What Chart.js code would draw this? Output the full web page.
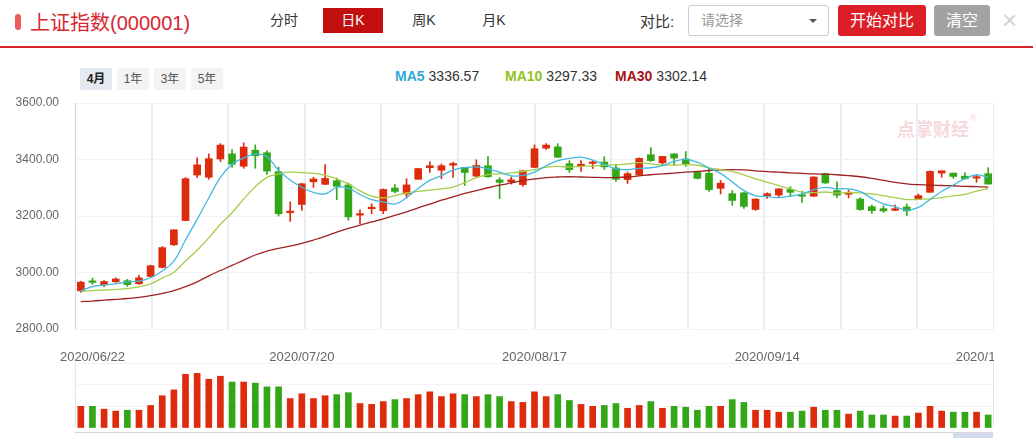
<!DOCTYPE html>
<html>
<head>
<meta charset="utf-8">
<script src="https://cdn.jsdelivr.net/npm/chart.js@4.4.1/dist/chart.umd.min.js"></script>
<style>
  body{margin:0;width:1033px;height:438px;overflow:hidden;background:#fff;position:relative;
       font-family:"Liberation Sans","Noto Sans CJK SC",sans-serif;color:#333}
  .abs{position:absolute;white-space:nowrap}
  .mark{left:15px;top:14px;width:6px;height:16px;background:#ef5b5b;border-radius:3px}
  .title{left:30px;top:10px;font-size:20px;line-height:26px;color:#d9262e}
  .tab{top:8px;height:25px;line-height:25px;font-size:14px;color:#333;text-align:center;width:60px}
  .tab.on{background:#c20e0e;color:#fff}
  .hline{left:0;top:46px;width:1033px;height:2px;background:#d9262e}
  .sel{left:688px;top:5px;width:139px;height:29px;border:1px solid #ccc;border-radius:3px;
       font-size:14px;line-height:29px;color:#999;text-indent:12px}
  .caret{left:809px;top:19px;width:0;height:0;border-left:4px solid transparent;border-right:4px solid transparent;border-top:4px solid #555}
  .btn{top:5px;height:31px;line-height:31px;font-size:16px;color:#fff;text-align:center;border-radius:3px}
  .per{top:68px;width:32px;height:22px;line-height:22px;font-size:12px;text-align:center;background:#f3f3f3;color:#555;border-radius:2px}
  .per.on{background:#e4e8f1;color:#222;font-weight:bold}
  .ma{top:67px;font-size:14px;line-height:18px;color:#333}
  .ma b{margin-right:4px}
  .wm{left:897px;top:118px;font-size:18px;line-height:24px;font-weight:bold;color:#f6d9dc}
  .chart{position:absolute;left:0}
</style>
</head>
<body>
<div class="abs mark"></div>
<div class="abs title">上证指数(000001)</div>
<div class="abs tab" style="left:254px">分时</div>
<div class="abs tab on" style="left:323px">日K</div>
<div class="abs tab" style="left:394px">周K</div>
<div class="abs tab" style="left:464px">月K</div>
<div class="abs" style="left:640px;top:12px;font-size:15px;line-height:20px">对比:</div>
<div class="abs sel">请选择</div>
<div class="abs caret"></div>
<div class="abs btn" style="left:838px;width:88px;background:#dc1f27">开始对比</div>
<div class="abs btn" style="left:934px;width:56px;background:#a2a2a2">清空</div>
<div class="abs" style="left:1002px;top:6px;font-size:26px;line-height:28px;color:#d4d4d4">×</div>
<div class="abs hline"></div>

<div class="abs per on" style="left:80px">4月</div>
<div class="abs per" style="left:117px">1年</div>
<div class="abs per" style="left:154px">3年</div>
<div class="abs per" style="left:191px">5年</div>

<div class="abs ma" style="left:395px"><b style="color:#2fa8d8">MA5</b>3336.57</div>
<div class="abs ma" style="left:505px"><b style="color:#8dc21f">MA10</b>3297.33</div>
<div class="abs ma" style="left:615px"><b style="color:#a31414">MA30</b>3302.14</div>

<div class="abs wm">点掌财经</div>
<div class="abs" style="left:970px;top:113px;font-size:9px;color:#f3d3d6">®</div>

<div class="chart" style="top:95px;width:994px;height:271px"><canvas id="kChart"></canvas></div>
<div class="chart" style="top:360px;width:994px;height:68px"><canvas id="volChart"></canvas></div>
<div class="abs" style="left:993px;top:363px;width:1px;height:65px;background:#e4e4e4"></div>
<div class="abs" style="left:75px;top:432px;width:918px;height:1px;background:#d6d6d6"></div>
<div class="abs" style="left:953px;top:433px;width:40px;height:5px;background:#d2daec"></div>

<script>
// trading days shown in the K-line window
const dates = [
  '2020/06/19','2020/06/22','2020/06/23','2020/06/24','2020/06/29','2020/06/30','2020/07/01','2020/07/02','2020/07/03','2020/07/06',
  '2020/07/07','2020/07/08','2020/07/09','2020/07/10','2020/07/13','2020/07/14','2020/07/15','2020/07/16','2020/07/17','2020/07/20',
  '2020/07/21','2020/07/22','2020/07/23','2020/07/24','2020/07/27','2020/07/28','2020/07/29','2020/07/30','2020/07/31','2020/08/03',
  '2020/08/04','2020/08/05','2020/08/06','2020/08/07','2020/08/10','2020/08/11','2020/08/12','2020/08/13','2020/08/14','2020/08/17',
  '2020/08/18','2020/08/19','2020/08/20','2020/08/21','2020/08/24','2020/08/25','2020/08/26','2020/08/27','2020/08/28','2020/08/31',
  '2020/09/01','2020/09/02','2020/09/03','2020/09/04','2020/09/07','2020/09/08','2020/09/09','2020/09/10','2020/09/11','2020/09/14',
  '2020/09/15','2020/09/16','2020/09/17','2020/09/18','2020/09/21','2020/09/22','2020/09/23','2020/09/24','2020/09/25','2020/09/28',
  '2020/09/29','2020/09/30','2020/10/09','2020/10/12','2020/10/13','2020/10/14','2020/10/15','2020/10/16','2020/10/19'
];
const dateTicks = ['2020/06/22','2020/07/20','2020/08/17','2020/09/14','2020/10/19'];

const opens = [
  2935,2967,2956,2967,2971,2960,2986,3018,3098,3184,
  3381,3337,3402,3420,3376,3433,3424,3357,3212,3241,
  3331,3312,3305,3310,3203,3226,3219,3299,3278,3330,
  3378,3362,3380,3372,3341,3378,3328,3328,3311,3372,
  3440,3445,3385,3378,3391,3391,3370,3329,3345,3417,
  3388,3420,3402,3333,3351,3298,3279,3282,3223,3272,
  3274,3294,3275,3270,3350,3290,3277,3260,3233,3226,
  3220,3232,3260,3284,3352,3352,3341,3334,3350
];
const highs = [
  2969,2980,2971,2981,2976,2990,3026,3092,3152,3336,
  3406,3420,3456,3435,3459,3452,3431,3373,3250,3316,
  3337,3382,3334,3317,3222,3243,3296,3311,3332,3368,
  3392,3384,3391,3372,3399,3410,3336,3338,3361,3452,
  3456,3456,3396,3396,3396,3410,3383,3356,3406,3442,
  3411,3421,3428,3357,3369,3326,3290,3285,3261,3282,
  3297,3304,3288,3339,3351,3321,3293,3265,3239,3236,
  3239,3243,3278,3360,3360,3352,3353,3347,3371
];
const lows = [
  2930,2958,2951,2965,2951,2958,2985,3016,3096,3183,
  3337,3330,3393,3372,3369,3369,3347,3200,3181,3220,
  3301,3311,3258,3185,3173,3208,3208,3282,3264,3330,
  3354,3332,3337,3308,3338,3337,3262,3313,3305,3371,
  3436,3407,3354,3358,3368,3365,3322,3315,3344,3393,
  3382,3380,3376,3331,3287,3278,3238,3227,3220,3262,
  3266,3271,3248,3269,3315,3265,3264,3220,3209,3213,
  3219,3202,3260,3284,3337,3333,3330,3319,3313
];
const closes = [
  2966,2965,2968,2977,2957,2981,3024,3088,3151,3332,
  3345,3403,3451,3383,3444,3413,3359,3208,3214,3314,
  3321,3333,3325,3197,3205,3228,3294,3287,3310,3368,
  3371,3378,3386,3354,3379,3339,3319,3321,3360,3438,
  3451,3408,3364,3381,3386,3374,3330,3350,3404,3396,
  3411,3405,3385,3355,3293,3316,3255,3234,3260,3279,
  3296,3284,3270,3338,3317,3274,3280,3223,3219,3218,
  3226,3218,3272,3358,3360,3340,3332,3336,3313
];
const volumes = [
  100,100,87,78,82,82,104,149,176,248,
  252,225,239,212,212,207,190,190,136,158,
  136,149,154,163,113,109,122,131,136,154,
  167,145,158,154,145,154,145,122,118,167,
  145,154,127,109,100,104,113,91,104,122,
  91,100,96,82,100,100,131,118,82,82,
  73,73,78,96,82,82,64,78,60,60,
  55,55,69,100,78,73,73,73,60
];
const ma5 = [
  2935,2950,2956,2960,2966.6,2969.6,2981.4,3005.4,3040.2,3115.2,
  3188,3263.8,3336.4,3382.8,3405.2,3418.8,3410,3361.4,3327.6,3301.6,
  3283.2,3278,3301.4,3298,3276.2,3257.6,3249.8,3242.2,3264.8,3297.4,
  3326,3342.8,3362.6,3371.4,3373.6,3367.2,3355.4,3342.4,3343.6,3355.4,
  3377.8,3395.6,3404.2,3408.4,3398,3382.6,3367,3364.2,3368.8,3370.8,
  3378.2,3393.2,3400.2,3390.4,3369.8,3350.8,3320.8,3290.6,3271.6,3268.8,
  3264.8,3270.6,3277.8,3293.4,3301,3296.6,3295.8,3286.4,3262.6,3242.8,
  3233.2,3220.8,3230.6,3258.4,3286.8,3309.6,3332.4,3345.2,3336.6
];
const ma10 = [
  2933,2936,2938,2940,2943,2949,2960,2980,3001,3040.9,
  3078.8,3122.6,3170.9,3211.5,3260.2,3303.4,3336.9,3348.9,3355.2,3353.4,
  3351,3344,3331.4,3312.8,3288.9,3270.4,3263.9,3271.8,3281.4,3286.8,
  3291.8,3296.3,3302.4,3318.1,3335.5,3346.6,3349.1,3352.5,3357.5,3364.5,
  3372.5,3375.5,3373.3,3376,3376.7,3380.2,3381.3,3384.2,3388.6,3384.4,
  3380.4,3380.1,3382.2,3379.6,3370.3,3364.5,3357,3345.4,3331,3319.3,
  3307.8,3295.7,3284.2,3282.5,3284.9,3280.7,3283.2,3282.1,3278,3271.9,
  3264.9,3258.3,3258.5,3260.5,3264.8,3271.4,3276.6,3287.9,3297.3
];
const ma30 = [
  2897,2899,2902,2905,2908,2912,2918,2926,2936,2950,
  2967,2988,3007,3025,3044,3062,3076,3085,3093,3103,
  3115,3128,3143,3156,3168,3179,3190,3202,3215,3229,
  3242,3256,3268,3280,3290,3300,3309,3317,3325,3331,
  3336,3338,3339,3338,3337,3336,3336,3338,3342,3346,
  3349,3352,3355,3358,3361,3363,3364,3363,3360,3357,
  3355,3353,3351,3349,3348,3346,3343,3339,3333,3326,
  3319,3314,3311,3309,3308,3307,3305,3304,3302
];

const UP = '#dd2b0e', DOWN = '#33a718';
// red when the close is not below the previous close
const colors = closes.map((c, i) => c >= (i ? closes[i - 1] : opens[i]) ? UP : DOWN);

Chart.defaults.font.family = '"Liberation Sans","Noto Sans CJK SC",sans-serif';

function maLine(label, data, color){
  return { type: 'line', label, data, xAxisID: 'x', borderColor: color, borderWidth: 1.3,
           pointRadius: 0, tension: 0.4, fill: false, order: 0 };
}

new Chart(document.getElementById('kChart'), {
  type: 'bar',
  data: {
    labels: dates,
    datasets: [
      maLine('MA5', ma5, '#43b9e0'),
      maLine('MA10', ma10, '#a6ce4b'),
      maLine('MA30', ma30, '#a02222'),
      { label: 'body', data: opens.map((o, i) => [o, closes[i]]), xAxisID: 'x', backgroundColor: colors,
        barThickness: 7, minBarLength: 1.5, grouped: false, order: 1 },
      { label: 'wick', data: lows.map((l, i) => [l, highs[i]]), xAxisID: 'x', backgroundColor: colors,
        barThickness: 1, grouped: false, order: 2 }
    ]
  },
  options: {
    animation: false, responsive: true, maintainAspectRatio: false,
    layout: { padding: { top: 8, left: 0, right: 0, bottom: 0 } },
    plugins: { legend: { display: false }, tooltip: { enabled: false } },
    scales: {
      x: {
        type: 'category', offset: true,
        grid: { display: false, drawTicks: false }, border: { display: false },
        ticks: { autoSkip: false, maxRotation: 0, padding: 21, color: '#666', font: { size: 13 },
                 callback: (v, i) => dateTicks.includes(dates[i]) ? dates[i] : '' },
        afterFit: s => { s.paddingLeft = 0; s.paddingRight = 0; s.height = 37; }
      },
      // split lines of the price panel, not tied to the candles
      xg: {
        type: 'linear', position: 'bottom', min: 0, max: 12, offset: false,
        ticks: { display: false, stepSize: 1 },
        grid: { offset: false, color: c => c.index === 0 ? 'rgba(0,0,0,0)' : '#e8edf4', lineWidth: 2, drawTicks: false },
        border: { display: false },
        afterFit: s => { s.height = 0; s.paddingLeft = 0; s.paddingRight = 0; }
      },
      y: {
        min: 2800, max: 3600,
        ticks: { stepSize: 200, padding: 16, color: '#666', font: { size: 12 }, callback: v => v.toFixed(2) },
        grid: { color: '#f3f3f3', drawTicks: false },
        border: { color: '#c9d6ea' },
        afterFit: s => { s.width = 75; s.paddingTop = 0; s.paddingBottom = 0; }
      }
    }
  }
});

new Chart(document.getElementById('volChart'), {
  type: 'bar',
  data: { labels: dates, datasets: [{ data: volumes, backgroundColor: colors, barThickness: 6 }] },
  options: {
    animation: false, responsive: true, maintainAspectRatio: false,
    layout: { padding: { top: 3, left: 0, right: 0, bottom: 0 } },
    plugins: { legend: { display: false }, tooltip: { enabled: false } },
    scales: {
      x: { offset: true, ticks: { display: false }, grid: { display: false, drawTicks: false },
           border: { color: '#c7d1e6' },
           afterFit: s => { s.height = 0; s.paddingLeft = 0; s.paddingRight = 0; } },
      y: { min: 0, max: 300, ticks: { display: false, stepSize: 100 },
           grid: { color: '#f3f3f3', drawTicks: false }, border: { color: '#dfe6f2' },
           afterFit: s => { s.width = 75; s.paddingTop = 0; s.paddingBottom = 0; } }
    }
  }
});
</script>
</body>
</html>
